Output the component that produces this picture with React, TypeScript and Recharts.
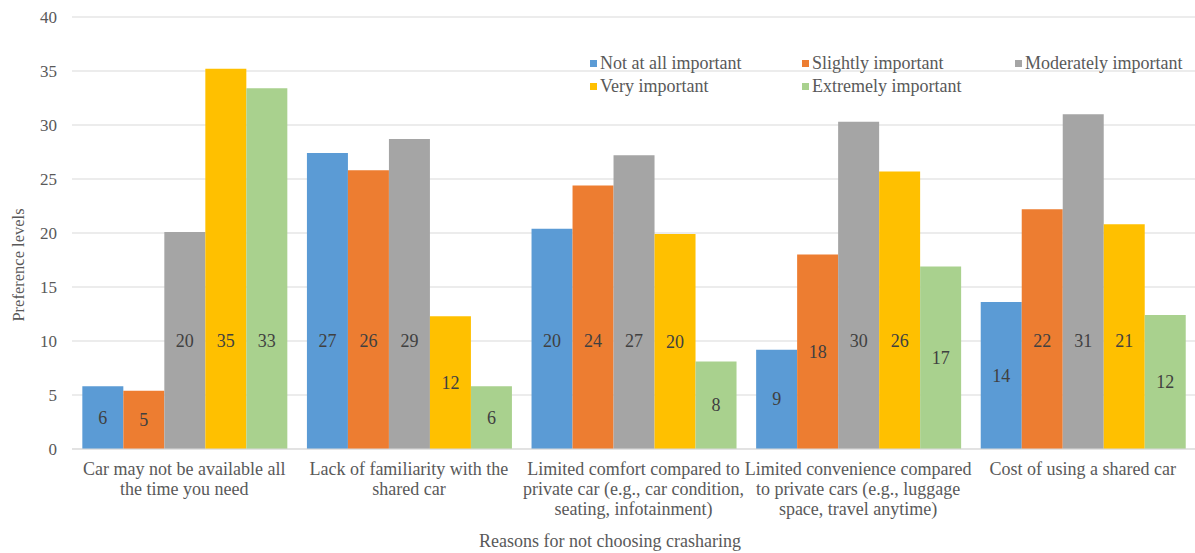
import React from 'react';
import { BarChart, Bar, XAxis, YAxis, CartesianGrid, Legend, Label, LabelList } from 'recharts';

const categories = [
  'Car may not be available all\nthe time you need',
  'Lack of familiarity with the\nshared car',
  'Limited comfort compared to\nprivate car (e.g., car condition,\nseating, infotainment)',
  'Limited convenience compared\nto private cars (e.g., luggage\nspace, travel anytime)',
  'Cost of using a shared car',
];

const notAtAll = [5.8, 27.4, 20.4, 9.2, 13.6];
const slightly = [5.4, 25.8, 24.4, 18.0, 22.2];
const moderately = [20.1, 28.7, 27.2, 30.3, 31.0];
const very = [35.2, 12.3, 19.9, 25.7, 20.8];
const extremely = [33.4, 5.8, 8.1, 16.9, 12.4];

const yTicks = [0, 5, 10, 15, 20, 25, 30, 35, 40];

const series = [
  { key: 'notAtAll', name: 'Not at all important', color: '#5B9BD5' },
  { key: 'slightly', name: 'Slightly important', color: '#ED7D31' },
  { key: 'moderately', name: 'Moderately important', color: '#A5A5A5' },
  { key: 'very', name: 'Very important', color: '#FFC000' },
  { key: 'extremely', name: 'Extremely important', color: '#A9D18E' },
];

const data = categories.map((category, i) => ({
  category,
  notAtAll: notAtAll[i],
  slightly: slightly[i],
  moderately: moderately[i],
  very: very[i],
  extremely: extremely[i],
}));

const FONT = "'Liberation Serif', 'Times New Roman', serif";
const TEXT = '#595959';

const CategoryTick = (props: any) => {
  const { x, y, payload } = props;
  const lines = String(payload.value).split('\n');
  return (
    <text x={x} y={y + 18} textAnchor="middle" fill={TEXT} fontSize={18} fontFamily={FONT}>
      {lines.map((line, i) => (
        <tspan key={i} x={x} dy={i === 0 ? 0 : 20}>
          {line}
        </tspan>
      ))}
    </text>
  );
};

// value labels sit mid-bar, but never higher than the 10 mark
const BarValueLabel = (props: any) => {
  const { x, y, width, height, value } = props;
  if (value == null || !height) return null;
  const bottom = y + height;
  const perUnit = height / value;
  const cy = bottom - Math.min(height / 2, 10 * perUnit);
  return (
    <text
      x={x + width / 2}
      y={cy}
      textAnchor="middle"
      dominantBaseline="central"
      fill="#404040"
      fontSize={18}
      fontFamily={FONT}
    >
      {Math.round(value)}
    </text>
  );
};

const LegendBox = () => (
  <div
    style={{
      display: 'grid',
      gridTemplateColumns: '212px 213px 180px',
      rowGap: 3,
      fontFamily: FONT,
      fontSize: 18,
      color: TEXT,
      lineHeight: '20px',
    }}
  >
    {series.map((s) => (
      <div key={s.key} style={{ display: 'flex', alignItems: 'center', whiteSpace: 'nowrap' }}>
        <span style={{ width: 7, height: 7, background: s.color, marginRight: 3, display: 'inline-block' }} />
        {s.name}
      </div>
    ))}
  </div>
);

export default function App() {
  return (
    <div style={{ position: 'absolute', left: 0, top: 0, background: '#fff', fontFamily: FONT }}>
      <BarChart
        width={1195}
        height={553}
        data={data}
        margin={{ top: 17, right: 0, left: 0, bottom: 0 }}
        barCategoryGap="4.6%"
        barGap={0}
      >
        <CartesianGrid vertical={false} stroke="#d9d9d9" />
        <XAxis
          dataKey="category"
          height={104}
          tickLine={false}
          axisLine={{ stroke: '#d9d9d9' }}
          tick={<CategoryTick />}
          interval={0}
        >
          <Label
            content={() => (
              <text
                x={610}
                y={541}
                textAnchor="middle"
                dominantBaseline="central"
                fill={TEXT}
                fontSize={18}
                fontFamily={FONT}
              >
                Reasons for not choosing crasharing
              </text>
            )}
          />
        </XAxis>
        <YAxis
          width={72}
          domain={[0, 40]}
          ticks={yTicks}
          tickLine={false}
          axisLine={false}
          tickMargin={9}
          tick={{ fill: TEXT, fontSize: 17, fontFamily: FONT }}
        >
          <Label
            content={() => (
              <text
                x={18}
                y={265}
                transform="rotate(-90 18 265)"
                textAnchor="middle"
                dominantBaseline="central"
                fill={TEXT}
                fontSize={16.5}
                fontFamily={FONT}
              >
                Preference levels
              </text>
            )}
          />
        </YAxis>
        <Legend
          layout="horizontal"
          verticalAlign="middle"
          align="center"
          content={<LegendBox />}
          wrapperStyle={{ left: 590, top: 53, width: 605 }}
        />
        {series.map((s) => (
          <Bar key={s.key} dataKey={s.key} name={s.name} fill={s.color} isAnimationActive={false}>
            <LabelList dataKey={s.key} content={<BarValueLabel />} />
          </Bar>
        ))}
      </BarChart>
    </div>
  );
}
